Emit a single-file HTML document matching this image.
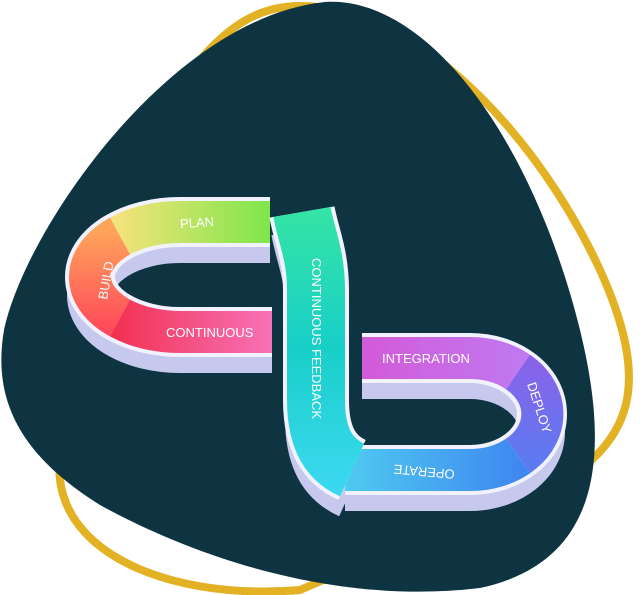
<!DOCTYPE html>
<html><head><style>
html,body{margin:0;padding:0;background:#fff;width:641px;height:595px;overflow:hidden}
svg{display:block}
text{font-family:"Liberation Sans",sans-serif;fill:#fff;font-size:13px}
</style></head><body>
<svg width="641" height="595" viewBox="0 0 641 595">
<defs>
<linearGradient id="gPlan" gradientUnits="userSpaceOnUse" x1="120" y1="0" x2="270" y2="0"><stop offset="0" stop-color="#f2e37a"/><stop offset="1" stop-color="#7ee64a"/></linearGradient>
<linearGradient id="gBuild" gradientUnits="userSpaceOnUse" x1="0" y1="230" x2="0" y2="330"><stop offset="0" stop-color="#ffa55a"/><stop offset="1" stop-color="#ff4a5a"/></linearGradient>
<linearGradient id="gCont" gradientUnits="userSpaceOnUse" x1="110" y1="0" x2="272" y2="0"><stop offset="0" stop-color="#f2304f"/><stop offset="1" stop-color="#f772b8"/></linearGradient>
<linearGradient id="gFeed" gradientUnits="userSpaceOnUse" x1="0" y1="215" x2="0" y2="480"><stop offset="0" stop-color="#34e3a6"/><stop offset="0.5" stop-color="#18cfc8"/><stop offset="1" stop-color="#3ad8ee"/></linearGradient>
<linearGradient id="gInt" gradientUnits="userSpaceOnUse" x1="362" y1="0" x2="520" y2="0"><stop offset="0" stop-color="#d35ad8"/><stop offset="1" stop-color="#c078f0"/></linearGradient>
<linearGradient id="gDep" gradientUnits="userSpaceOnUse" x1="0" y1="360" x2="0" y2="460"><stop offset="0" stop-color="#8a62ea"/><stop offset="1" stop-color="#5e7af0"/></linearGradient>
<linearGradient id="gOp" gradientUnits="userSpaceOnUse" x1="345" y1="0" x2="525" y2="0"><stop offset="0" stop-color="#4fcaf0"/><stop offset="1" stop-color="#3e86f0"/></linearGradient>
</defs>
<path d="M300,6 C420,6 540,140 600,270 C650,380 630,430 580,470 L300,590 C180,600 70,560 60,480 C50,380 130,150 200,60 C230,25 260,6 300,6 Z" fill="none" stroke="#e2b124" stroke-width="8"/>
<path d="M325,2 C420,-4 520,120 572,300 C612,440 610,560 480,588 C340,605 200,560 100,505 C20,455 -8,400 4,330 C25,230 170,18 325,2 Z" fill="#0e3441"/>
<g fill="none" stroke-linecap="butt">
 <g transform="translate(0,18)" stroke="#c6c8ee" stroke-width="46">
  <path d="M270,222 L180,222 A90,55 0 0 0 180,332 L272,332"/>
  <path d="M362,358 L470,358 A72,56 0 0 1 470,470 L345,470"/>
  <path d="M302,212 C306,235 316,255 316,290 L316,400 C316,440 330,460 352,470" stroke-width="62"/>
 </g>
 <g stroke="#f2f2ff" stroke-width="50">
  <path d="M270,222 L180,222 A90,55 0 0 0 180,332 L272,332"/>
  <path d="M362,358 L470,358 A72,56 0 0 1 470,470 L345,470"/>
 </g>
 <path d="M270,222 L180,222 A90,55 0 0 0 120,236" stroke="url(#gPlan)" stroke-width="42"/>
 <path d="M120,236 A90,55 0 0 0 120,318" stroke="url(#gBuild)" stroke-width="42"/>
 <path d="M120,318 A90,55 0 0 0 180,332 L272,332" stroke="url(#gCont)" stroke-width="42"/>
 <path d="M362,358 L470,358 A72,56 0 0 1 518,372" stroke="url(#gInt)" stroke-width="42"/>
 <path d="M518,372 A72,56 0 0 1 518,456" stroke="url(#gDep)" stroke-width="42"/>
 <path d="M518,456 A72,56 0 0 1 470,470 L345,470" stroke="url(#gOp)" stroke-width="42"/>
 <path d="M302,212 C306,235 316,255 316,290 L316,400 C316,440 330,460 352,470" stroke="#f2f2ff" stroke-width="66"/>
 <path d="M302,212 C306,235 316,255 316,290 L316,400 C316,440 330,460 352,470" stroke="url(#gFeed)" stroke-width="58"/>
</g>
<text x="180" y="227" transform="rotate(-4 200 222)">PLAN</text>
<text x="0" y="0" transform="translate(107,300) rotate(-80)">BUILD</text>
<text x="166" y="337">CONTINUOUS</text>
<text x="0" y="0" transform="translate(312,258) rotate(90)">CONTINUOUS FEEDBACK</text>
<text x="382" y="363">INTEGRATION</text>
<text x="0" y="0" transform="translate(527,384) rotate(72)">DEPLOY</text>
<text x="0" y="0" transform="translate(455,470) rotate(185)">OPERATE</text>
</svg>
</body></html>
